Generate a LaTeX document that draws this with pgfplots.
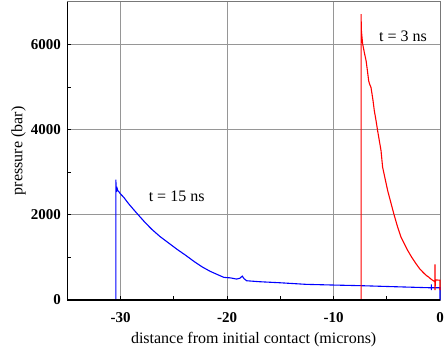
\documentclass[border=0pt]{standalone}
\usepackage{fontspec}
\setmainfont{Liberation Serif}
\usepackage{pgfplots}
\pgfplotsset{compat=1.18}

\definecolor{gridgray}{RGB}{150,150,150}
\definecolor{framegray}{RGB}{120,120,120}

\begin{document}
\begin{tikzpicture}
\begin{axis}[
  scale only axis,
  width=372.7pt, height=298.3pt,
  xmin=-35, xmax=0, ymin=0, ymax=7000,
  xtick={-30,-20,-10,0},
  ytick={0,2000,4000,6000},
  minor tick num=1,
  xtick pos=bottom, ytick pos=left,
  tick align=inside,
  major tick length=4pt, minor tick length=4pt,
  tick style={black, line width=0.6pt},
  grid=major,
  major grid style={gridgray, line width=0.8pt},
  axis line style={framegray, line width=1pt},
  /pgf/number format/assume math mode=true,
  /pgf/number format/1000 sep={},
  ticklabel style={font=\fontsize{15}{17}\selectfont\bfseries},
  xticklabel style={yshift=-9pt},
  yticklabel style={xshift=-3pt},
  xlabel={distance from initial contact (microns)},
  ylabel={pressure (bar)},
  label style={font=\fontsize{16}{18}\selectfont},
  xlabel style={yshift=-3pt},
  ylabel style={yshift=-2pt},
  clip=false,
]
% t = 15 ns profile
\addplot[blue, line width=1.1pt] coordinates {
  (-35,0) (-30.44,0) (-30.44,2823) (-30.41,2600) (-30.37,2573)
  (-30.32,2620) (-30.25,2560) (-30.15,2540) (-30.03,2496)
  (-29.7,2410) (-29.25,2262) (-28.8,2130) (-28.3,1988)
  (-27.7,1820) (-27.07,1660) (-26.3,1490) (-25.5,1340)
  (-24.7,1190) (-23.9,1052) (-23.1,905) (-22.35,779)
  (-21.6,675) (-20.79,585) (-20.3,531) (-19.7,520)
  (-19.1,491) (-18.8,510) (-18.57,561) (-18.4,500)
  (-18.16,452) (-17,430) (-15.05,405) (-12.55,367)
  (-10,351) (-7.27,335) (-4.15,311) (-1.03,288)
  (-0.81,288) (-0.81,367) (-0.81,234) (-0.81,288)
  (-0.16,288) (0,288) (0,0)
};
% t = 3 ns profile
\addplot[red, line width=1.1pt] coordinates {
  (-7.41,0) (-7.41,6706) (-7.39,6350) (-7.35,6238)
  (-7.3,6100) (-7.26,6005) (-7.1,5800) (-6.94,5614)
  (-6.8,5350) (-6.7,5146) (-6.6,5060) (-6.48,4989)
  (-6.3,4700) (-6.17,4444) (-6.0,4200) (-5.86,3976)
  (-5.7,3742) (-5.54,3509) (-5.39,3118) (-5.15,2840)
  (-4.92,2573) (-4.6,2270) (-4.3,1988) (-4.0,1730)
  (-3.67,1481) (-3.35,1320) (-3.05,1170) (-2.65,1000)
  (-2.27,858) (-1.9,730) (-1.49,624) (-1.25,570)
  (-1.03,531) (-0.85,490) (-0.72,468) (-0.55,440)
  (-0.47,420) (-0.47,835) (-0.47,234) (-0.42,470)
  (-0.2,468) (0,468) (0,230)
};
\node[font=\fontsize{16}{18}\selectfont, anchor=base] at (axis cs:-24.73,2308) {t = 15 ns};
\node[font=\fontsize{16}{18}\selectfont, anchor=base] at (axis cs:-3.48,6077) {t = 3 ns};
\draw[black, line width=1.3pt] (rel axis cs:0,1) -- (rel axis cs:0,0) -- (rel axis cs:1,0);
\end{axis}
\pgfresetboundingbox
\path (-67.3pt,-51pt) rectangle (376.7pt,300pt);
\end{tikzpicture}
\end{document}
